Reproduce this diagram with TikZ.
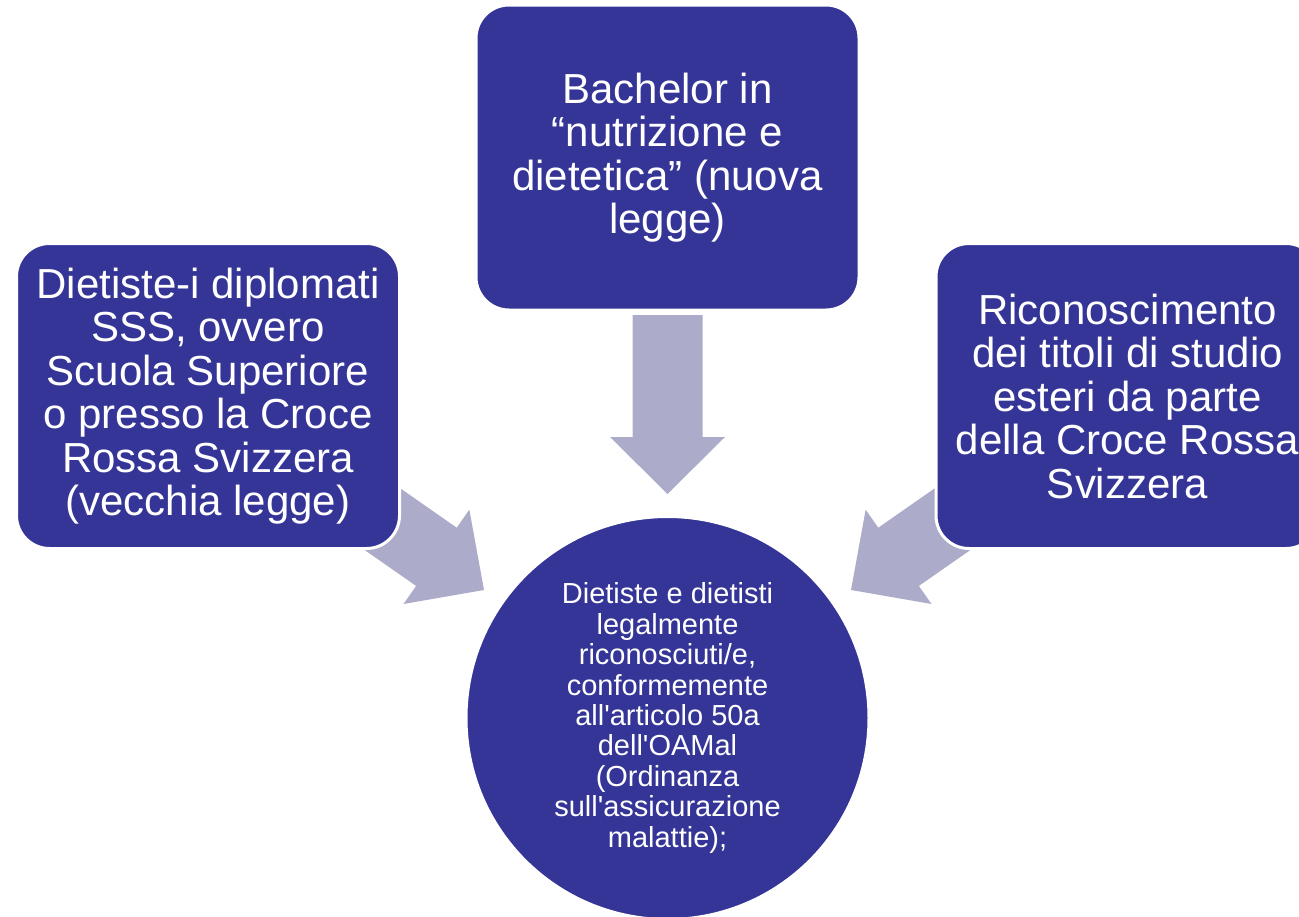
\documentclass[tikz,border=0pt]{standalone}
\usepackage{fontspec}
\setmainfont{Liberation Sans}[Ligatures=TeXOff]
\definecolor{boxblue}{RGB}{53,53,151}
\definecolor{arrowgray}{RGB}{172,172,202}
\tikzset{
  srcbox/.style={rectangle, rounded corners=33pt, fill=boxblue, draw=white, line width=3pt,
    minimum width=383pt, minimum height=305pt, inner sep=0pt, text=white, align=center,
    font=\fontsize{42}{43.5}\selectfont},
  goalcircle/.style={circle, fill=boxblue, draw=white, line width=3pt, minimum size=403pt,
    inner sep=0pt, text=white, align=center, font=\fontsize{29}{30.4}\selectfont},
  blockarrow/.style={fill=arrowgray}
}
\begin{document}
\begin{tikzpicture}[x=1pt,y=-1pt]
\useasboundingbox (0,0) rectangle (1299,916);
% arrow tips
\coordinate (tipD) at (667.5,494);
\coordinate (tipL) at (484,590);
\coordinate (tipR) at (851,590);
% block arrows
\begin{scope}[shift={(tipD)}, rotate=-90]
  \fill[blockarrow] (0,0) -- (-57,57.5) -- (-57,35) -- (-179,35) -- (-179,-35) -- (-57,-35) -- (-57,-57.5) -- cycle;
\end{scope}
\begin{scope}[shift={(tipL)}, rotate=-34.9]
  \fill[blockarrow] (0,0) -- (-58,57.5) -- (-58,35.5) -- (-179,35.5) -- (-179,-35.5) -- (-58,-35.5) -- (-58,-57.5) -- cycle;
\end{scope}
\begin{scope}[shift={(tipR)}, rotate=-145.1]
  \fill[blockarrow] (0,0) -- (-58,57.5) -- (-58,35.5) -- (-179,35.5) -- (-179,-35.5) -- (-58,-35.5) -- (-58,-57.5) -- cycle;
\end{scope}
% boxes
\node[srcbox] (top) at (667.5,157.5) {Bachelor in\\“nutrizione e\\dietetica” (nuova\\legge)};
\node[srcbox] (left) at (208,396) {Dietiste-i diplomati\\SSS, ovvero\\Scuola Superiore\\o presso la Croce\\Rossa Svizzera\\(vecchia legge)};
\node[srcbox] (right) at (1127.5,396) {Riconoscimento\\dei titoli di studio\\esteri da parte\\della Croce Rossa\\Svizzera};
\node[goalcircle] (goal) at (667.5,718) {Dietiste e dietisti\\legalmente\\riconosciuti/e,\\conformemente\\all'articolo 50a\\dell'OAMal\\(Ordinanza\\sull'assicurazione\\malattie);};
\end{tikzpicture}
\end{document}
